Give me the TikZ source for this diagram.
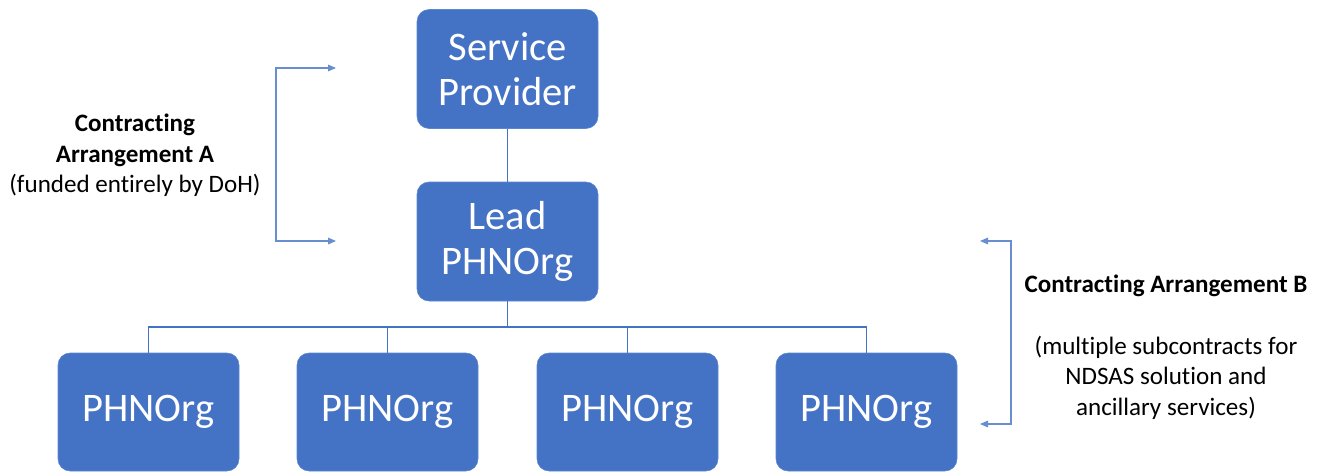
\documentclass[tikz,border=0pt]{standalone}
\usepackage{fontspec}
\setmainfont{Carlito}[Ligatures=NoCommon]
\usetikzlibrary{arrows.meta}
\definecolor{boxblue}{HTML}{4472C4}
\definecolor{edgeblue}{HTML}{5B86D0}
\begin{document}
\begin{tikzpicture}[x=0.75pt,y=-0.75pt,
  orgbox/.style={draw=edgeblue, fill=boxblue, rounded corners=9pt,
    minimum width=135.75pt, minimum height=89.25pt, text=white,
    font=\fontsize{30.4}{34}\selectfont, align=center, inner sep=0pt},
  link/.style={draw=boxblue, line width=0.8pt},
  bracketline/.style={draw=boxblue!80!white, line width=0.8pt,
    {Triangle[length=6pt,width=5pt]}-{Triangle[length=6pt,width=5pt]}},
  lbl/.style={align=center, font=\fontsize{18.8}{23}\selectfont}
]
\useasboundingbox (0,0) rectangle (1325,472);

\node[orgbox] (sp) at (507.5,69) {Service\\Provider};
\node[orgbox] (lead) at (507.5,241.5) {Lead\\PHNOrg};
\node[orgbox, minimum height=88.5pt] (p1) at (148.5,412) {PHNOrg};
\node[orgbox, minimum height=88.5pt] (p2) at (387.5,412) {PHNOrg};
\node[orgbox, minimum height=88.5pt] (p3) at (627.5,412) {PHNOrg};
\node[orgbox, minimum height=88.5pt] (p4) at (866.5,412) {PHNOrg};

\coordinate (bus) at (507.5,327);
\draw[link] (sp) -- (lead);
\draw[link] (lead.south) -- (bus);
\draw[link] (p1.north) |- (bus) -| (p4.north);
\draw[link] (p2.north) -- (p2.north |- bus);
\draw[link] (p3.north) -- (p3.north |- bus);

\coordinate (aT) at (336,68);
\coordinate (aB) at (336,241);
\draw[bracketline] (aT) -- (276,68) |- (aB);

\coordinate (bT) at (980,241);
\coordinate (bB) at (980,424);
\draw[bracketline] (bT) -- (1011,241) |- (bB);

\node[lbl] (la) at (135,155.5) {\textbf{Contracting}\\\textbf{Arrangement A}\\(funded entirely by DoH)};
\node[lbl] (lb) at (1166,347.5) {\textbf{Contracting Arrangement B}\\[23pt](multiple subcontracts for\\NDSAS solution and\\ancillary services)};
\end{tikzpicture}
\end{document}
